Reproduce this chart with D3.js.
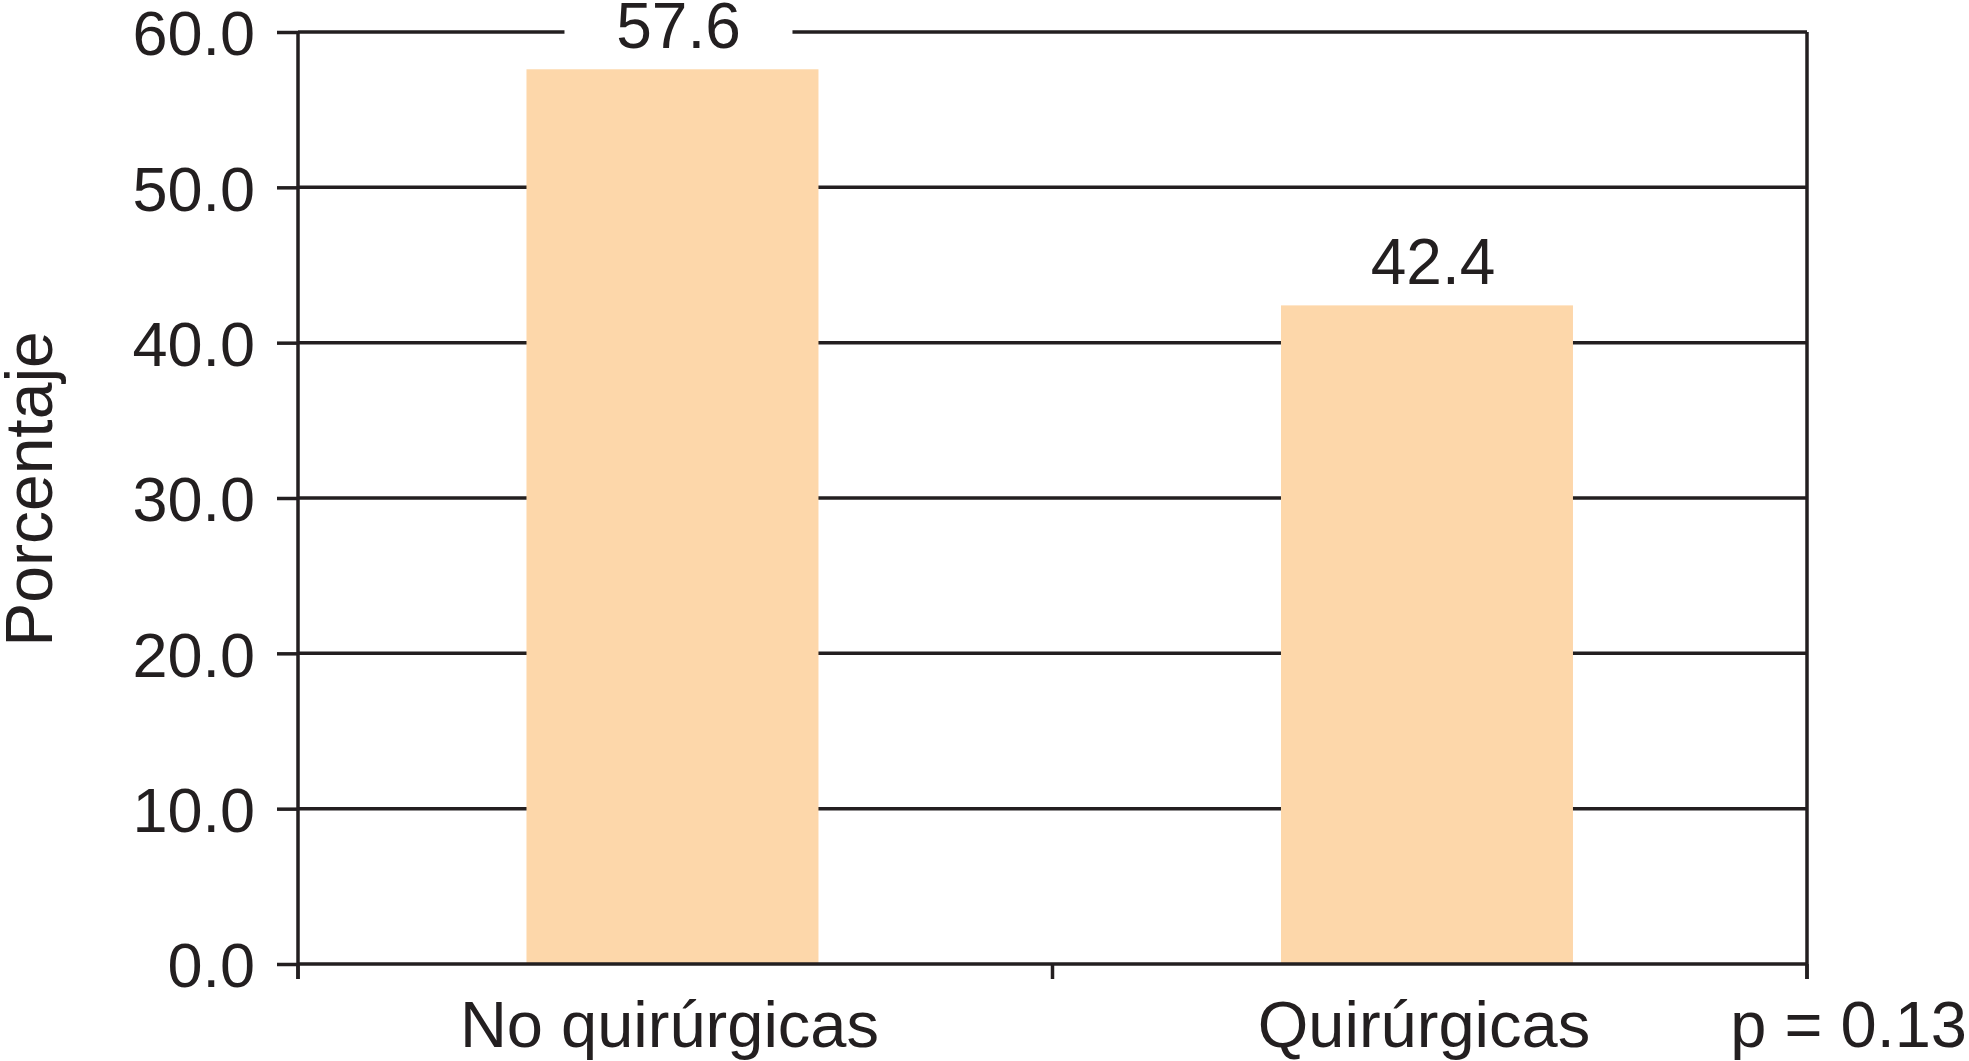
<!DOCTYPE html>
<html>
<head>
<meta charset="utf-8">
<script src="https://cdn.jsdelivr.net/npm/d3@7"></script>
<style>
  body { margin: 0; background: #fff; }
  text { font-family: "Liberation Sans", Arial, Helvetica, sans-serif; fill: #231f20; }
</style>
</head>
<body>
<div id="chart"></div>
<script>
// data
var categories = ["No quirúrgicas", "Quirúrgicas"];
var values = [57.6, 42.4];
var valueLabels = ["57.6", "42.4"];
var yTicks = [0, 10, 20, 30, 40, 50, 60];
var yTitle = "Porcentaje";
var pNote = "p = 0.13";

// set the dimensions and margins of the graph
var margin = {top: 32, right: 162, bottom: 97, left: 298},
    width = 1969 - margin.left - margin.right,
    height = 1061 - margin.top - margin.bottom;

var ink = "#231f20";
var lineW = 3.5;

var svg = d3.select("#chart")
  .append("svg")
    .attr("width", width + margin.left + margin.right)
    .attr("height", height + margin.top + margin.bottom)
  .append("g")
    .attr("transform", "translate(" + margin.left + "," + margin.top + ")");

// scales
var x = d3.scaleBand()
    .domain(categories)
    .range([0, width])
    .paddingInner(0.613)
    .paddingOuter(0.3065)
    .align(0.494);

var y = d3.scaleLinear()
    .domain([0, 60])
    .range([height, 0]);

// gridlines (behind the bars)
svg.append("g")
  .selectAll("line")
  .data(yTicks.filter(function(d){ return d > 0; }))
  .enter()
  .append("line")
    .attr("x1", 0)
    .attr("x2", width)
    .attr("y1", function(d){ return y(d); })
    .attr("y2", function(d){ return y(d); })
    .attr("stroke", ink)
    .attr("stroke-width", lineW);

// bars
svg.append("g")
  .selectAll("rect")
  .data(values)
  .enter()
  .append("rect")
    .attr("x", function(d, i){ return x(categories[i]); })
    .attr("y", function(d){ return y(d); })
    .attr("width", x.bandwidth())
    .attr("height", function(d){ return y(0) - y(d); })
    .attr("fill", "#fdd7aa");

// value labels, with a white patch so the top line breaks around them
var lab = svg.append("g")
  .selectAll("g")
  .data(values)
  .enter()
  .append("g")
    .attr("transform", function(d, i){
      return "translate(" + (x(categories[i]) + x.bandwidth() / 2 + 6) + "," + (y(d) - 21) + ")";
    });
lab.append("rect")
    .attr("x", -114)
    .attr("y", -48)
    .attr("width", 228)
    .attr("height", 54)
    .attr("fill", "#fff");
lab.append("text")
    .attr("text-anchor", "middle")
    .attr("font-size", "64px")
    .text(function(d, i){ return valueLabels[i]; });

// Y axis
var yAxis = svg.append("g")
    .call(d3.axisLeft(y)
      .tickValues(yTicks)
      .tickSize(21)
      .tickPadding(22)
      .tickFormat(d3.format(".1f")));
yAxis.select(".domain").remove();
yAxis.selectAll("line").attr("stroke", ink).attr("stroke-width", lineW);
yAxis.selectAll("text")
    .attr("font-size", "63px")
    .attr("dy", "0.36em")
    .style("font-family", "'Liberation Sans', Arial, sans-serif")
    .attr("fill", ink);

// frame: left and right verticals, baseline
var tickDown = 15;
[0, width].forEach(function(xx){
  svg.append("line")
    .attr("x1", xx).attr("x2", xx)
    .attr("y1", y(60)).attr("y2", height + tickDown)
    .attr("stroke", ink)
    .attr("stroke-width", lineW);
});
svg.append("line")
    .attr("x1", 0).attr("x2", width)
    .attr("y1", y(0)).attr("y2", y(0))
    .attr("stroke", ink)
    .attr("stroke-width", lineW);

// x ticks at category boundaries
var bounds = [0, width / 2, width];
svg.append("g")
  .selectAll("line")
  .data(bounds)
  .enter()
  .append("line")
    .attr("x1", function(d){ return d; })
    .attr("x2", function(d){ return d; })
    .attr("y1", height)
    .attr("y2", height + tickDown)
    .attr("stroke", ink)
    .attr("stroke-width", lineW);

// category labels
svg.append("g")
  .selectAll("text")
  .data(categories)
  .enter()
  .append("text")
    .attr("x", function(d){ return x(d) + x.bandwidth() / 2 - 3; })
    .attr("y", height + 83)
    .attr("text-anchor", "middle")
    .attr("font-size", "65px")
    .text(function(d){ return d; });

// p value
svg.append("text")
    .attr("x", width + 160)
    .attr("y", height + 83)
    .attr("text-anchor", "end")
    .attr("font-size", "65px")
    .text(pNote);

// y title
svg.append("text")
    .attr("transform", "translate(" + (52 - margin.left) + "," + (489 - margin.top) + ") rotate(-90)")
    .attr("text-anchor", "middle")
    .attr("font-size", "66px")
    .text(yTitle);
</script>
</body>
</html>
